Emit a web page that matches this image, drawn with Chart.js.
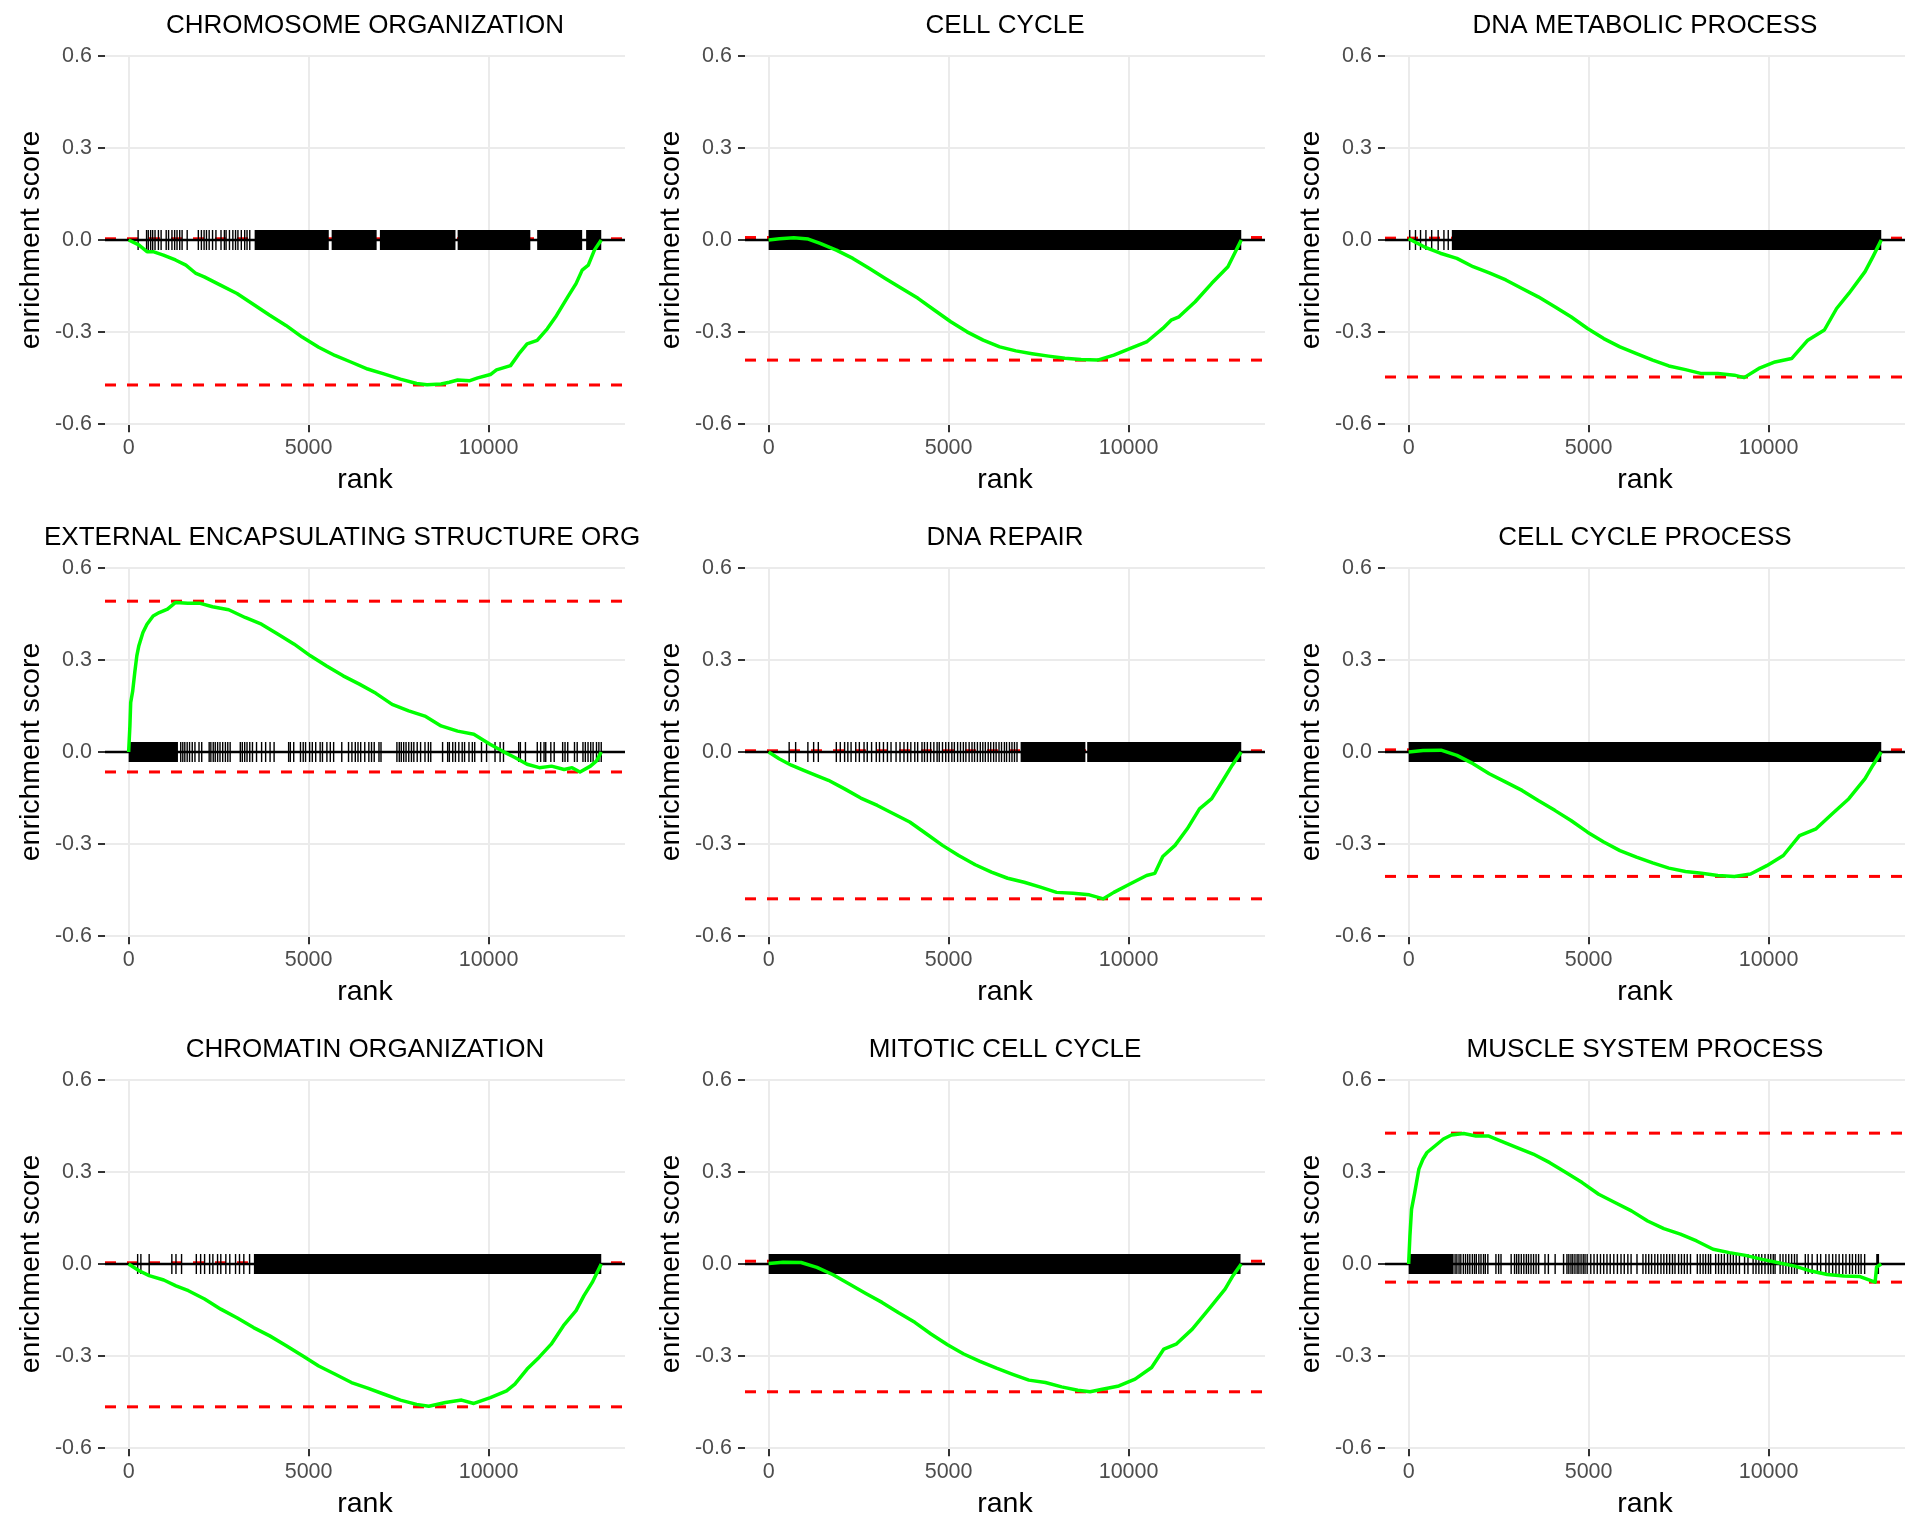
<!DOCTYPE html>
<html lang="en">
<head>
<meta charset="UTF-8">
<title>running enrichment score</title>
<script src="https://cdn.jsdelivr.net/npm/chart.js@4.4.1/dist/chart.umd.min.js"></script>
<style>
  body { margin: 0; background: #fff; }
  #grid { display: grid; grid-template-columns: repeat(3, 640px); grid-auto-rows: 512px; width: 1920px; }
  canvas { display: block; }
</style>
</head>
<body>
<div id="grid"></div>
<script>
// ---- data ----
const titles = [
  'CHROMOSOME ORGANIZATION', 'CELL CYCLE', 'DNA METABOLIC PROCESS',
  'EXTERNAL ENCAPSULATING STRUCTURE ORGANIZATION', 'DNA REPAIR', 'CELL CYCLE PROCESS',
  'CHROMATIN ORGANIZATION', 'MITOTIC CELL CYCLE', 'MUSCLE SYSTEM PROCESS'
];
const xTicks = [0, 5000, 10000];
const yTicks = [-0.6, -0.3, 0, 0.3, 0.6];
const rankRange = [-657, 13790];
const esRange = [-0.6, 0.6];

// running sum, [rank, enrichment score]
const esCurves = [
  [[0,0],[280,-0.016],[510,-0.038],[680,-0.038],[965,-0.049],[1300,-0.065],[1590,-0.082],[1870,-0.109],[2100,-0.12],[2550,-0.147],[3010,-0.174],[3460,-0.209],[3920,-0.245],[4370,-0.278],[4820,-0.316],[5280,-0.349],[5730,-0.376],[6190,-0.398],[6640,-0.42],[7090,-0.436],[7550,-0.453],[8000,-0.467],[8290,-0.471],[8680,-0.469],[8910,-0.463],[9140,-0.456],[9480,-0.458],[9700,-0.449],[10050,-0.438],[10220,-0.423],[10610,-0.409],[10840,-0.371],[11070,-0.338],[11350,-0.327],[11630,-0.289],[11860,-0.251],[12200,-0.185],[12430,-0.142],[12600,-0.098],[12770,-0.082],[12940,-0.033],[13130,0]],
  [[0,0],[300,0.004],[700,0.007],[1100,0.003],[1430,-0.011],[1880,-0.033],[2340,-0.06],[2790,-0.092],[3240,-0.125],[3700,-0.158],[4150,-0.19],[4600,-0.228],[5060,-0.266],[5510,-0.299],[5960,-0.326],[6420,-0.348],[6870,-0.361],[7320,-0.37],[7780,-0.378],[8230,-0.385],[8680,-0.389],[9140,-0.391],[9590,-0.375],[10050,-0.353],[10500,-0.332],[10950,-0.288],[11180,-0.261],[11400,-0.25],[11850,-0.201],[12310,-0.141],[12760,-0.087],[13130,0]],
  [[0,0.004],[430,-0.022],[880,-0.043],[1340,-0.06],[1790,-0.087],[2240,-0.107],[2700,-0.13],[3150,-0.158],[3600,-0.185],[4060,-0.217],[4510,-0.25],[4970,-0.288],[5420,-0.321],[5870,-0.348],[6330,-0.37],[6780,-0.391],[7230,-0.41],[7690,-0.422],[8140,-0.435],[8590,-0.435],[9050,-0.44],[9320,-0.448],[9730,-0.418],[10180,-0.397],[10640,-0.386],[11090,-0.326],[11550,-0.293],[11890,-0.223],[12230,-0.174],[12680,-0.103],[12900,-0.054],[13130,0]],
  [[0,0],[35,0.085],[57,0.161],[113,0.199],[170,0.259],[227,0.313],[284,0.346],[397,0.389],[510,0.416],[680,0.443],[850,0.454],[1080,0.465],[1305,0.487],[1645,0.484],[1990,0.484],[2330,0.473],[2780,0.463],[3235,0.438],[3690,0.416],[4140,0.384],[4600,0.351],[5050,0.313],[5500,0.28],[5960,0.248],[6410,0.221],[6870,0.191],[7320,0.155],[7780,0.134],[8230,0.117],[8680,0.085],[9140,0.068],[9590,0.058],[10040,0.025],[10380,0.003],[10730,-0.018],[11070,-0.04],[11410,-0.051],[11750,-0.046],[12100,-0.057],[12320,-0.051],[12540,-0.065],[12830,-0.046],[13000,-0.029],[13130,0]],
  [[0,0],[290,-0.022],[630,-0.043],[975,-0.06],[1315,-0.076],[1660,-0.092],[2110,-0.12],[2560,-0.15],[3020,-0.174],[3470,-0.201],[3920,-0.228],[4380,-0.266],[4830,-0.304],[5280,-0.337],[5740,-0.367],[6190,-0.391],[6640,-0.411],[7100,-0.424],[7550,-0.44],[8000,-0.457],[8460,-0.46],[8910,-0.465],[9300,-0.478],[9590,-0.457],[10050,-0.429],[10500,-0.402],[10730,-0.395],[10950,-0.34],[11290,-0.304],[11630,-0.25],[11970,-0.185],[12310,-0.152],[12650,-0.087],[12880,-0.043],[13130,0]],
  [[0,0],[400,0.005],[900,0.006],[1340,-0.011],[1790,-0.038],[2240,-0.071],[2700,-0.098],[3150,-0.125],[3600,-0.158],[4060,-0.19],[4510,-0.223],[4970,-0.261],[5420,-0.293],[5870,-0.321],[6330,-0.342],[6780,-0.361],[7230,-0.378],[7690,-0.389],[8140,-0.395],[8590,-0.402],[9050,-0.405],[9500,-0.397],[9950,-0.37],[10410,-0.337],[10860,-0.272],[11320,-0.25],[11770,-0.201],[12230,-0.152],[12680,-0.087],[12900,-0.043],[13130,0]],
  [[0,0],[290,-0.022],[570,-0.038],[975,-0.052],[1315,-0.071],[1660,-0.087],[2110,-0.114],[2560,-0.147],[3020,-0.176],[3470,-0.207],[3920,-0.234],[4380,-0.266],[4830,-0.299],[5280,-0.332],[5740,-0.359],[6190,-0.386],[6640,-0.404],[7100,-0.424],[7550,-0.443],[8000,-0.457],[8340,-0.463],[8800,-0.451],[9250,-0.443],[9590,-0.454],[10050,-0.435],[10500,-0.413],[10730,-0.391],[11070,-0.342],[11400,-0.304],[11740,-0.261],[12080,-0.201],[12430,-0.152],[12650,-0.103],[12880,-0.06],[13130,0]],
  [[0,0.002],[400,0.006],[900,0.005],[1340,-0.011],[1790,-0.035],[2240,-0.065],[2700,-0.096],[3150,-0.125],[3600,-0.158],[4060,-0.19],[4510,-0.228],[4970,-0.263],[5420,-0.293],[5870,-0.317],[6330,-0.339],[6780,-0.359],[7230,-0.378],[7690,-0.386],[8140,-0.4],[8590,-0.411],[8930,-0.416],[9270,-0.408],[9730,-0.397],[10180,-0.375],[10640,-0.337],[10980,-0.277],[11320,-0.261],[11770,-0.212],[12230,-0.147],[12680,-0.082],[12900,-0.038],[13130,0]],
  [[0,0],[35,0.091],[80,0.178],[170,0.233],[284,0.309],[397,0.341],[510,0.363],[738,0.385],[965,0.407],[1190,0.42],[1530,0.425],[1870,0.417],[2210,0.417],[2550,0.401],[3010,0.379],[3460,0.358],[3920,0.33],[4370,0.298],[4820,0.265],[5280,0.227],[5730,0.2],[6190,0.173],[6640,0.14],[7090,0.115],[7550,0.097],[8000,0.075],[8460,0.048],[8910,0.037],[9360,0.028],[9820,0.015],[10270,0.004],[10730,-0.007],[11180,-0.023],[11630,-0.034],[12090,-0.039],[12540,-0.041],[12960,-0.059],[13000,-0.01],[13130,0]]
];

// dashed lines at the max and min of each running sum
const esMax = [0.004, 0.008, 0.006, 0.491, 0.004, 0.007, 0.004, 0.009, 0.426];
const esMin = [-0.472, -0.391, -0.446, -0.065, -0.478, -0.405, -0.465, -0.416, -0.059];

// gene hits: single ranks where they can be told apart...
const rugTicks = [
  [263,498,545,611,667,733,827,902,1043,1109,1203,1278,1344,1419,1485,1626,1936,2021,2096,2162,2237,2331,2425,2566,2660,2707,2801,2895,2970,3036,3130,3224,3289,3365],
  [],
  [30,190,330,480,640,820,980,1100],
  [1447,1504,1560,1626,1692,1767,1842,1955,2030,2237,2284,2350,2406,2472,2538,2613,2688,2754,2820,3102,3158,3224,3289,3365,3440,3553,3694,3806,3929,4041,4445,4492,4586,4774,4850,4915,5028,5103,5197,5320,5385,5508,5602,5695,5921,6109,6203,6297,6372,6447,6560,6673,6748,6823,6955,7011,7453,7519,7575,7641,7707,7782,7857,7923,8017,8111,8233,8327,8393,8722,8863,8910,9004,9079,9173,9267,9333,9455,9549,9615,9803,9944,10179,10320,10414,10836,10883,11024,11353,11447,11541,11588,11729,11823,12058,12124,12199,12387,12462,12622,12688,12763,12838,12904,12998,13064,13130],
  [570,750,1090,1250,1380,1880,1990,2110,2200,2290,2420,2520,2650,2740,2860,2990,3080,3190,3300,3400,3540,3650,3760,3860,3950,4060,4140,4260,4330,4410,4500,4590,4680,4740,4830,4920,5000,5090,5160,5250,5330,5410,5480,5570,5650,5720,5800,5880,5950,6020,6100,6170,6250,6320,6400,6470,6550,6610,6690,6760,6830,6900],
  [],
  [250,340,570,1200,1315,1470,1880,2000,2110,2250,2340,2470,2560,2700,2810,2970,3080,3200,3360],
  [],
  [1290,1340,1400,1450,1520,1580,1640,1700,1770,1830,1880,1950,2010,2080,2130,2200,2425,2500,2566,2848,2942,3000,3060,3130,3200,3270,3330,3400,3470,3540,3610,3788,3882,4070,4304,4398,4450,4510,4560,4620,4680,4730,4790,4850,4900,4960,5060,5150,5240,5330,5420,5510,5600,5700,5800,5900,5990,6090,6180,6344,6510,6590,6670,6750,6840,6920,7010,7090,7170,7250,7330,7400,7500,7580,7660,7740,7830,8020,8100,8180,8250,8330,8390,8530,8610,8690,8770,8860,8940,9020,9100,9190,9333,9427,9570,9650,9730,9810,9900,9990,10060,10130,10180,10320,10400,10480,10560,10640,10720,10790,11020,11100,11210,11353,11447,11590,11680,11780,11870,11960,12060,12150,12250,12330,12420,12500,12570,12669]
];
// ...and rank spans where the hits merge into a solid band
const rugBlocks = [
  [[3500,5560],[5640,6890],[6980,9080],[9140,11160],[11350,12600],[12710,13130]],
  [[0,13130]],
  [[1200,13130]],
  [[0,1370]],
  [[7000,8800],[8850,13130]],
  [[0,13130]],
  [[3480,13130]],
  [[0,13110]],
  [[0,1250],[12990,13070]]
];

const FONT = '"Liberation Sans", Arial, Helvetica, sans-serif';

// panel title centred over the plot area (a too-long one starts at the left margin)
const panelTitle = {
  id: 'panelTitle',
  afterDraw(chart, args, opts) {
    const {ctx, chartArea} = chart;
    ctx.save();
    ctx.font = '26px ' + FONT;
    ctx.fillStyle = '#000';
    ctx.textAlign = 'center';
    ctx.textBaseline = 'middle';
    const w = ctx.measureText(opts.text).width;
    const cx = Math.max((chartArea.left + chartArea.right) / 2, 44 + w / 2);
    ctx.fillText(opts.text, cx, 25.5);
    ctx.restore();
  }
};

const grid = document.getElementById('grid');
const [xMin, xMax] = rankRange;

function hline(v, color, width, dash) {
  return {
    data: [{x: xMin, y: v}, {x: xMax, y: v}],
    borderColor: color, borderWidth: width, borderDash: dash || [],
    pointRadius: 0, borderCapStyle: 'butt'
  };
}

function makePanel(i) {
  const canvas = document.createElement('canvas');
  canvas.width = 640;
  canvas.height = 512;
  grid.appendChild(canvas);

  const blockPts = [];
  rugBlocks[i].forEach(([a, b]) => {
    blockPts.push({x: a, y: 0}, {x: b, y: 0}, {x: b, y: null});
  });

  const datasets = [
    { // running enrichment score
      data: esCurves[i].map(([x, y]) => ({x, y})),
      borderColor: '#00ff00', borderWidth: 3.5, pointRadius: 0, borderJoinStyle: 'round'
    },
    { // single hits
      data: rugTicks[i].map(x => ({x, y: 0})),
      showLine: false, pointStyle: 'line', pointRotation: 90, pointRadius: 10,
      pointBorderColor: '#000', pointBorderWidth: 1.4, pointHoverRadius: 10
    },
    { // dense hits
      data: blockPts, borderColor: '#000', borderWidth: 20, borderCapStyle: 'butt',
      pointRadius: 0, spanGaps: false
    },
    hline(0, '#000', 2.3),
    hline(esMax[i], '#ff0000', 3, [11, 11]),
    hline(esMin[i], '#ff0000', 3, [11, 11])
  ];

  new Chart(canvas, {
    type: 'line',
    data: { datasets },
    plugins: [panelTitle],
    options: {
      responsive: false,
      animation: false,
      events: [],
      layout: { padding: { left: 0, right: 15, top: 55.7, bottom: 0 } },
      plugins: {
        legend: { display: false },
        tooltip: { enabled: false },
        panelTitle: { text: titles[i] }
      },
      scales: {
        x: {
          type: 'linear', min: xMin, max: xMax,
          afterBuildTicks: s => { s.ticks = xTicks.map(v => ({value: v})); },
          afterFit: s => { s.height = 87.7; },
          border: { display: false },
          grid: { color: '#ebebeb', lineWidth: 2, tickLength: 8, tickColor: '#333333', tickWidth: 2 },
          ticks: { color: '#4d4d4d', font: { family: FONT, size: 21.5 }, padding: 3, maxRotation: 0,
                   callback: v => String(v) },
          title: { display: true, text: 'rank', color: '#000', font: { family: FONT, size: 28.5 },
                   padding: { top: 0, bottom: 15 } }
        },
        y: {
          type: 'linear', min: esRange[0], max: esRange[1],
          afterBuildTicks: s => { s.ticks = yTicks.map(v => ({value: v})); },
          afterFit: s => { s.width = 105; },
          border: { display: false },
          grid: { color: '#ebebeb', lineWidth: 2, tickLength: 7, tickColor: '#333333', tickWidth: 2 },
          ticks: { color: '#4d4d4d', font: { family: FONT, size: 21.5 }, padding: 6,
                   callback: v => v.toFixed(1) },
          title: { display: true, text: 'enrichment score', color: '#000', font: { family: FONT, size: 28.5 },
                   padding: { top: 14, bottom: 0 } }
        }
      }
    }
  });
}

titles.forEach((t, i) => makePanel(i));
</script>
</body>
</html>
